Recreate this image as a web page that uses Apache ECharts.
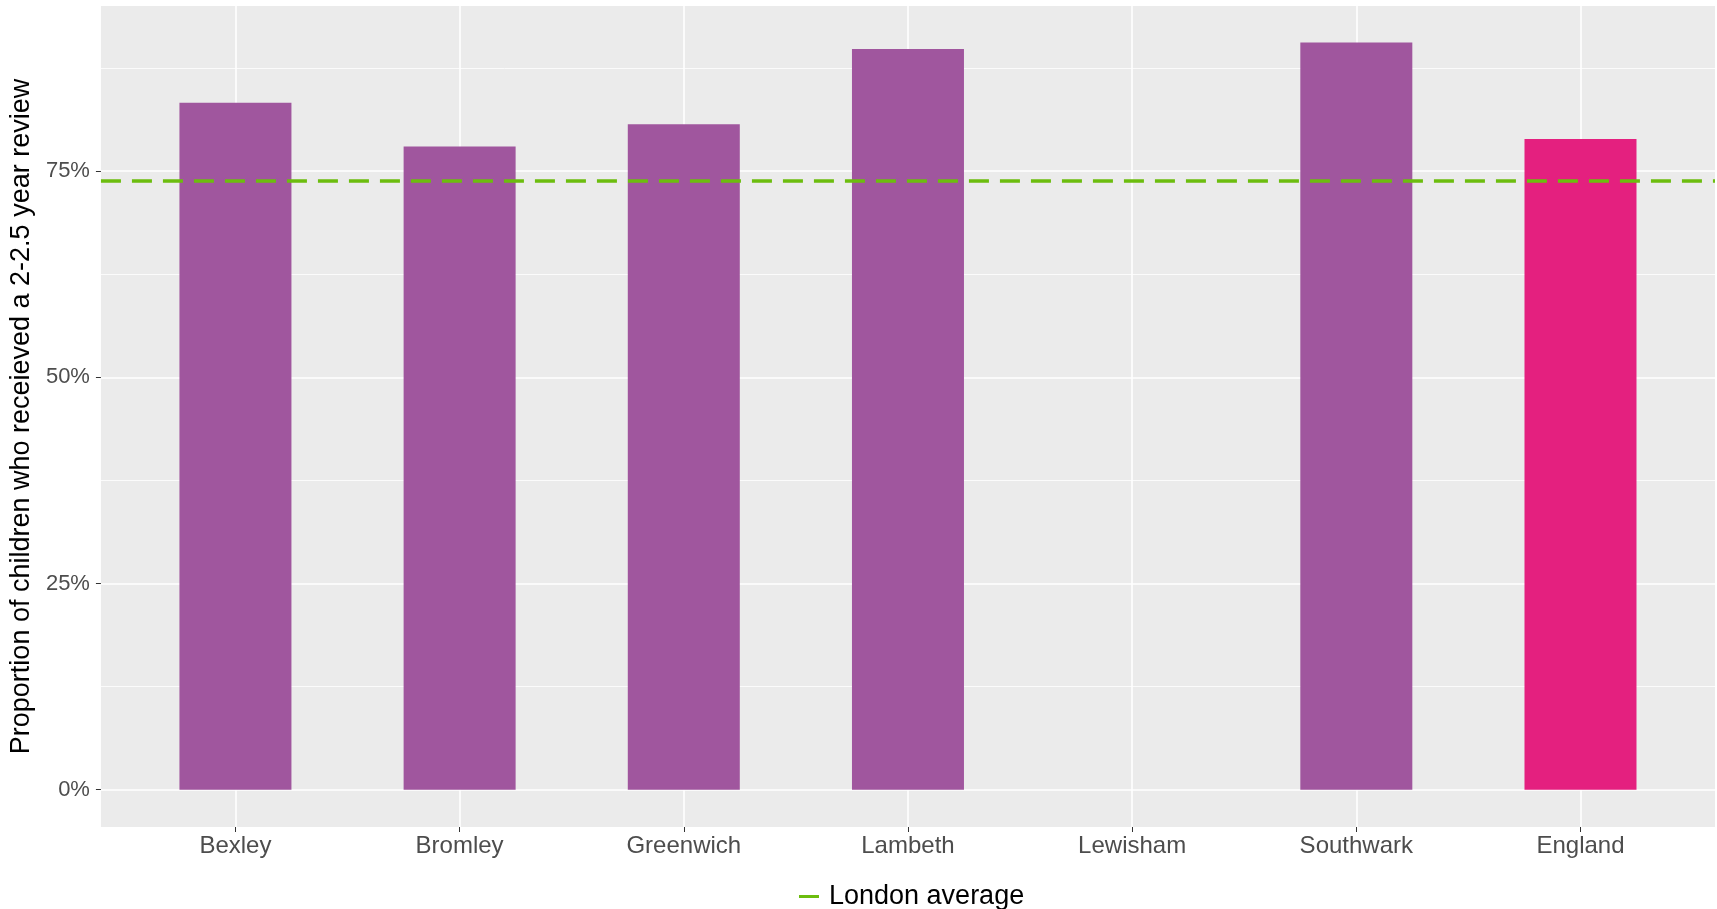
<!DOCTYPE html>
<html>
<head>
<meta charset="utf-8">
<script src="https://cdn.jsdelivr.net/npm/echarts@6/dist/echarts.min.js"></script>
<style>
html,body{margin:0;padding:0;background:#fff;}
#chart{width:1717px;height:909px;}
</style>
</head>
<body>
<div id="chart"></div>
<script>
const categories = ['Bexley', 'Bromley', 'Greenwich', 'Lambeth', 'Lewisham', 'Southwark', 'England'];
const reviewPct = [83.3, 78.0, 80.7, 89.8, null, 90.6, 78.9];
const londonAverage = 73.8;
const yTicks = [0, 25, 50, 75];
const yMinorTicks = [12.5, 37.5, 62.5, 87.5];
const yTitle = 'Proportion of children who receieved a 2-2.5 year review';
const legendLabel = 'London average';

const FONT = 'Liberation Sans, Arial, sans-serif';
const PURPLE = '#A0569E';
const PINK = '#E4207F';
const GREEN = '#6CBD0E';

const xIdx = categories.map((c, i) => i);
const barData = categories.map((c, i) => [i, reviewPct[i]]);

const chart = echarts.init(document.getElementById('chart'), null, {renderer: 'canvas'});
chart.setOption({
  animation: false,
  backgroundColor: '#ffffff',
  grid: {left: 100, right: 2, top: 6, bottom: 82, show: true, backgroundColor: '#EBEBEB', borderWidth: 0},
  legend: {
    data: [{name: legendLabel, icon: 'rect'}],
    top: 883,
    left: 799,
    padding: 0,
    itemWidth: 20,
    itemHeight: 3,
    itemGap: 8,
    textStyle: {fontFamily: FONT, fontSize: 27, color: '#000', padding: [0, 0, 0, 5]}
  },
  xAxis: {
    type: 'value',
    min: -0.6,
    max: 6.6,
    axisLine: {show: false, onZero: false},
    axisTick: {show: true, customValues: xIdx, length: 5, lineStyle: {color: '#333', width: 1}},
    axisLabel: {
      customValues: xIdx,
      formatter: v => categories[Math.round(v)],
      fontFamily: FONT, fontSize: 24, color: '#4D4D4D', margin: 7
    },
    splitLine: {show: true, lineStyle: {color: '#FFFFFF', width: 1.6}}
  },
  yAxis: {
    type: 'value',
    min: -4.525,
    max: 95.025,
    name: yTitle,
    nameLocation: 'middle',
    nameGap: 56,
    nameTextStyle: {fontFamily: FONT, fontSize: 27, color: '#000'},
    axisLine: {show: false, onZero: false},
    axisTick: {show: true, customValues: yTicks, length: 5, lineStyle: {color: '#333', width: 1}},
    axisLabel: {
      customValues: yTicks,
      formatter: v => v + '%',
      fontFamily: FONT, fontSize: 22, color: '#4D4D4D', margin: 11
    },
    splitLine: {show: true, lineStyle: {color: '#FFFFFF', width: 1.6}}
  },
  series: [
    {
      type: 'line',
      name: 'minor grid',
      data: [],
      silent: true,
      z: 0,
      markLine: {
        silent: true,
        z: 0,
        symbol: 'none',
        label: {show: false},
        lineStyle: {color: '#FFFFFF', width: 0.8, type: 'solid'},
        data: yMinorTicks.map(v => ({yAxis: v}))
      }
    },
    {
      type: 'bar',
      name: 'Proportion',
      data: barData,
      barWidth: 112,
      clip: false,
      z: 3,
      itemStyle: {
        color: p => categories[p.dataIndex] === 'England' ? PINK : PURPLE
      }
    },
    {
      type: 'line',
      name: legendLabel,
      data: [],
      color: GREEN,
      z: 5,
      lineStyle: {color: GREEN},
      itemStyle: {color: GREEN},
      markLine: {
        silent: true,
        z: 6,
        symbol: 'none',
        label: {show: false},
        lineStyle: {color: GREEN, width: 3.5, type: [20, 11]},
        data: [{yAxis: londonAverage}]
      }
    }
  ]
});
</script>
</body>
</html>
